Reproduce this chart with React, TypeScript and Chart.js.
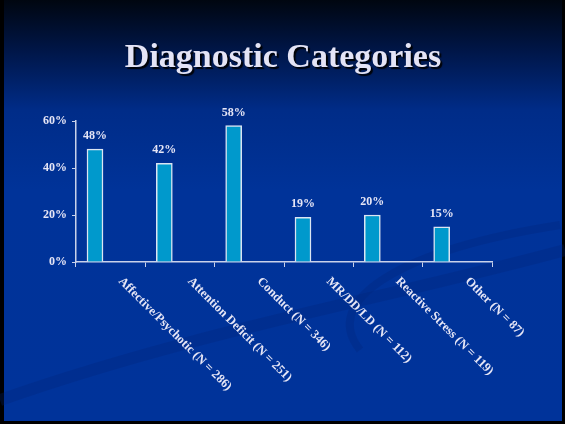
import React, { useEffect, useRef } from "react";
import { Chart, registerables } from "chart.js";

Chart.register(...registerables);

const titleText = "Diagnostic Categories";
const categories = [
  "Affective/Psychotic (N = 286)",
  "Attention Deficit (N = 251)",
  "Conduct (N = 346)",
  "MR/DD/LD (N = 112)",
  "Reactive Stress (N = 119)",
  "Other (N = 87)",
];
const values = [48, 42, 58, 19, 20, 15];
const yMax = 60;
const yStep = 20;

const SERIF = '"Liberation Serif", "DejaVu Serif", serif';
const TEXT = "#e6e6f6";
const AXIS = "#c9d2ea";
const W = 565;
const H = 424;

const decorPlugin = {
  id: "decor",
  beforeDraw(chart: any) {
    const ctx = chart.ctx;
    ctx.save();
    ctx.fillStyle = "#000000";
    ctx.fillRect(0, 0, W, H);
    const g = ctx.createLinearGradient(0, 0, 0, H);
    g.addColorStop(0, "#000610");
    g.addColorStop(0.12, "#001648");
    g.addColorStop(0.26, "#002c88");
    g.addColorStop(0.45, "#003399");
    g.addColorStop(1, "#00339a");
    ctx.fillStyle = g;
    ctx.fillRect(4, 0, W - 7, H - 3);
    // faint decorative swooshes
    ctx.strokeStyle = "rgba(0,35,120,0.28)";
    ctx.lineWidth = 12;
    ctx.beginPath();
    ctx.moveTo(0, 400);
    ctx.bezierCurveTo(200, 330, 380, 300, 565, 250);
    ctx.stroke();
    ctx.lineWidth = 8;
    ctx.beginPath();
    ctx.moveTo(360, 350);
    ctx.bezierCurveTo(320, 300, 400, 250, 560, 225);
    ctx.stroke();
    ctx.restore();
  },
};

const labelPlugin = {
  id: "labels",
  beforeDatasetsDraw(chart: any) {
    const xs = chart.scales.x;
    const cw = (xs.right - xs.left) / categories.length;
    chart.ctx.save();
    chart.ctx.translate(-0.226 * cw, 0);
  },
  afterDatasetsDraw(chart: any) {
    const ctx = chart.ctx;
    const meta = chart.getDatasetMeta(0);
    ctx.fillStyle = TEXT;
    ctx.font = `bold 12px ${SERIF}`;
    ctx.textAlign = "center";
    ctx.textBaseline = "bottom";
    meta.data.forEach((el: any, i: number) => {
      ctx.fillText(`${values[i]}%`, el.x, el.y - 7);
    });
    ctx.restore();

    const xs = chart.scales.x;
    const bottom = chart.chartArea.bottom;
    ctx.save();
    ctx.fillStyle = TEXT;
    ctx.font = `bold 12.5px ${SERIF}`;
    ctx.textAlign = "left";
    ctx.textBaseline = "top";
    categories.forEach((c, i) => {
      const cx = xs.getPixelForValue(i);
      ctx.save();
      ctx.translate(cx + 14, bottom + 13);
      ctx.rotate(Math.PI / 4);
      ctx.fillText(c, 0, 0);
      ctx.restore();
    });
    ctx.restore();

    ctx.save();
    ctx.font = `bold 34px ${SERIF}`;
    ctx.textAlign = "center";
    ctx.textBaseline = "alphabetic";
    ctx.shadowColor = "rgba(0,0,0,0.9)";
    ctx.shadowOffsetX = 2;
    ctx.shadowOffsetY = 2;
    ctx.shadowBlur = 1;
    ctx.fillStyle = "#e4e4f6";
    ctx.fillText(titleText, 283, 67);
    ctx.restore();
  },
};

export default function App() {
  const ref = useRef<HTMLCanvasElement>(null);
  useEffect(() => {
    document.body.style.margin = "0";
    const chart = new Chart(ref.current!, {
      type: "bar",
      data: {
        labels: categories,
        datasets: [
          {
            data: values,
            backgroundColor: "#0099cc",
            borderColor: "#dbe5f2",
            borderWidth: 1.5,
            barThickness: 16,
          },
        ],
      },
      options: {
        animation: false,
        responsive: false,
        devicePixelRatio: 1,
        layout: { padding: { top: 121, right: 73, left: 0, bottom: 0 } },
        plugins: { legend: { display: false }, tooltip: { enabled: false }, title: { display: false } },
        scales: {
          x: {
            type: "category",
            ticks: { display: false },
            grid: { offset: true, drawOnChartArea: false, drawTicks: true, tickLength: 5, color: AXIS, lineWidth: 1 },
            border: { display: true, color: AXIS, width: 1.5 },
            afterFit: (s: any) => {
              s.height = H - 262;
            },
          },
          y: {
            min: 0,
            max: yMax,
            ticks: {
              stepSize: yStep,
              callback: (v: any) => `${v}%`,
              color: TEXT,
              font: { family: SERIF, size: 12, weight: "bold" },
              padding: 5,
            },
            grid: { drawOnChartArea: false, drawTicks: true, tickLength: 4, color: AXIS, lineWidth: 1 },
            border: { display: true, color: AXIS, width: 1.5 },
            afterFit: (s: any) => {
              s.width = 76;
            },
          },
        },
      } as any,
      plugins: [decorPlugin, labelPlugin],
    });
    return () => chart.destroy();
  }, []);
  return <canvas ref={ref} width={W} height={H} style={{ display: "block", width: W, height: H }} />;
}
